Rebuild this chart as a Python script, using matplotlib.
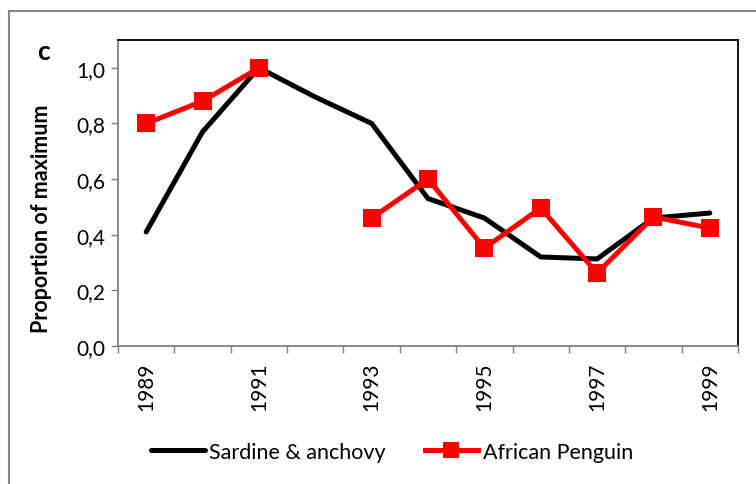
import matplotlib
matplotlib.use("Agg")
import matplotlib.pyplot as plt
import numpy as np
from matplotlib.lines import Line2D

years = [1989, 1990, 1991, 1992, 1993, 1994, 1995, 1996, 1997, 1998, 1999]
sardine_anchovy = [0.41, 0.77, 1.00, 0.895, 0.80, 0.53, 0.46, 0.32, 0.313, 0.46, 0.478]
african_penguin = [0.80, 0.88, 1.00, np.nan, 0.46, 0.60, 0.352, 0.496, 0.262, 0.464, 0.424]
y_ticks = [0.0, 0.2, 0.4, 0.6, 0.8, 1.0]
y_tick_labels = ["0,0", "0,2", "0,4", "0,6", "0,8", "1,0"]

plt.rcParams['font.family'] = ['Lato', 'DejaVu Sans']

fig = plt.figure(figsize=(7.56, 4.85), dpi=100)
ax = fig.add_axes([118/756, 1 - 347/485, (738-118)/756, (347-41)/485])

x = np.arange(len(years))
ax.plot(x, sardine_anchovy, color='black', lw=3.6, solid_capstyle='round',
        solid_joinstyle='miter', label='Sardine & anchovy', zorder=2)
ax.plot(x, african_penguin, color='#ff0000', lw=3.6, marker='s', markersize=12.5,
        markeredgewidth=0, label='African Penguin', zorder=3)

ax.set_xlim(-0.5, len(years) - 0.5)
ax.set_ylim(0, 1.1)

ax.set_yticks(y_ticks)
ax.set_yticklabels(y_tick_labels, fontsize=15)
ax.set_xticks(np.arange(-0.5, len(years), 1.0))
ax.set_xticklabels([])
lab_idx = [i for i in range(len(years)) if i % 2 == 0]
ax.set_xticks(lab_idx, minor=True)
ax.set_xticklabels([str(years[i]) for i in lab_idx], minor=True, rotation=90, fontsize=15)
ax.tick_params(axis='x', which='minor', length=0, pad=11)
ax.tick_params(axis='x', which='major', length=5, width=1, color='#808080', direction='out')
ax.tick_params(axis='y', length=5, width=1, color='#808080', direction='out', pad=4)

for s in ['left', 'bottom']:
    ax.spines[s].set_color('#808080')
    ax.spines[s].set_linewidth(1.3)
for s in ['top', 'right']:
    ax.spines[s].set_color('black')
    ax.spines[s].set_linewidth(1.3)

ax.set_ylabel('Proportion of maximum', fontsize=15.5, fontweight='bold', va='center')
ax.yaxis.set_label_coords((42 - 118) / 620, (347 - 219) / 306)
fig.text(43/756, 1 - 52/485, 'c', fontsize=19, fontweight='bold', ha='center', va='center')

handles = [Line2D([], [], color='black', lw=3.6, solid_capstyle='round'),
           Line2D([], [], color='#ff0000', lw=3.6, marker='s', markersize=11, markeredgewidth=0)]
fig.legend(handles, ['Sardine & anchovy', 'African Penguin'], loc='center',
           bbox_to_anchor=(392/756, 1 - 453/485), ncol=2, frameon=False, fontsize=15.5,
           handlelength=2.5, handletextpad=0.2, columnspacing=1.8, markerscale=1.0)

# outer chart border (top and left visible)
fig.add_artist(Line2D([9/756, 1], [1 - 12/485, 1 - 12/485], color='#888888', lw=1.5,
                      transform=fig.transFigure))
fig.add_artist(Line2D([9/756, 9/756], [0, 1 - 12/485], color='#888888', lw=1.5,
                      transform=fig.transFigure))

fig.savefig('out.png', dpi=100)
